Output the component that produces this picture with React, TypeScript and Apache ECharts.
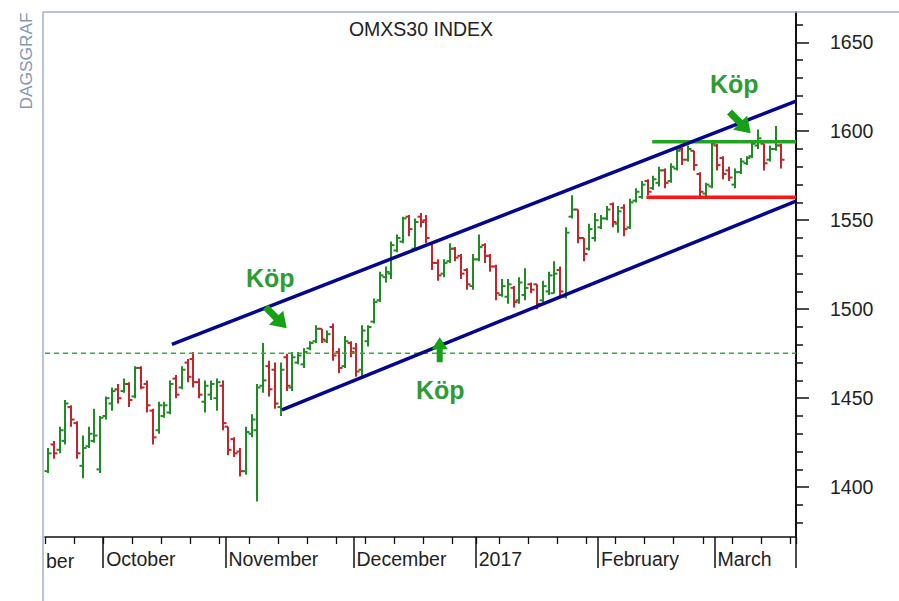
import React, { useEffect, useRef } from "react";
import * as echarts from "echarts";

// ---------- text ----------
const TITLE = "OMXS30 INDEX";
const SIDE_LABEL = "DAGSGRAF";
const FIRST_MONTH_TAIL = "ber";
const BUY = "Köp";
const MONTH_LABELS: Record<number, string> = {
  10: "October",
  11: "November",
  12: "December",
  1: "2017",
  2: "February",
  3: "March",
};

// ---------- categories (trading days) ----------
const MONTH_SPANS: [number, number, number, number][] = [
  [2016, 9, 19, 30],
  [2016, 10, 3, 31],
  [2016, 11, 1, 30],
  [2016, 12, 1, 30],
  [2017, 1, 2, 31],
  [2017, 2, 1, 28],
  [2017, 3, 1, 20],
];
const HOLIDAYS = ["2016-12-26", "2017-01-06"];

// ---------- OHLC values (one per trading day) ----------
const opens = [
  1409, 1424, 1421, 1426, 1445, 1436, 1412, 1423, 1426, 1410,
  1440, 1447, 1455, 1454, 1458, 1451, 1467, 1458, 1443, 1432,
  1440, 1442, 1461, 1456, 1470, 1472, 1459, 1448, 1452, 1450,
  1457, 1434, 1427, 1420, 1409, 1430, 1432, 1457, 1468, 1466,
  1445, 1473, 1456, 1470, 1469, 1478, 1482, 1489, 1482, 1490,
  1476, 1468, 1481, 1478, 1466, 1482, 1493, 1505, 1518, 1520,
  1533, 1538, 1552, 1534, 1552, 1550, 1537, 1526, 1520, 1527,
  1534, 1530, 1522, 1513, 1528, 1536, 1530, 1524, 1508, 1507,
  1512, 1505, 1508, 1514, 1514, 1505, 1510, 1509, 1522, 1507,
  1552, 1556, 1540, 1534, 1540, 1546, 1551, 1559, 1548, 1557,
  1546, 1561, 1563, 1572, 1568, 1571, 1578, 1572, 1579, 1590,
  1584, 1589, 1576, 1565, 1569, 1592, 1585, 1578, 1570, 1577,
  1582, 1586, 1592, 1593, 1584, 1590, 1592,
];
const highs = [
  1422, 1426, 1434, 1449, 1446, 1437, 1429, 1434, 1444, 1440,
  1451, 1456, 1458, 1461, 1459, 1468, 1468, 1460, 1444, 1448,
  1448, 1460, 1463, 1468, 1472, 1476, 1461, 1460, 1460, 1461,
  1460, 1434, 1428, 1422, 1434, 1441, 1458, 1481, 1471, 1470,
  1470, 1475, 1476, 1476, 1478, 1482, 1491, 1489, 1488, 1492,
  1478, 1485, 1482, 1481, 1491, 1491, 1506, 1521, 1524, 1538,
  1542, 1552, 1553, 1551, 1554, 1553, 1537, 1528, 1528, 1537,
  1535, 1531, 1523, 1531, 1542, 1537, 1531, 1525, 1517, 1517,
  1513, 1518, 1523, 1515, 1514, 1516, 1521, 1527, 1524, 1546,
  1564, 1556, 1540, 1548, 1554, 1553, 1558, 1560, 1558, 1559,
  1562, 1568, 1572, 1573, 1575, 1580, 1579, 1582, 1591, 1591,
  1592, 1589, 1577, 1571, 1594, 1593, 1586, 1580, 1579, 1585,
  1586, 1594, 1601, 1593, 1592, 1603, 1593,
];
const lows = [
  1408, 1416, 1419, 1424, 1434, 1416, 1405, 1422, 1425, 1408,
  1438, 1443, 1447, 1453, 1445, 1450, 1455, 1442, 1424, 1430,
  1439, 1441, 1450, 1455, 1459, 1456, 1450, 1442, 1449, 1443,
  1432, 1418, 1417, 1406, 1407, 1428, 1392, 1453, 1451, 1444,
  1440, 1454, 1454, 1469, 1467, 1477, 1481, 1481, 1481, 1471,
  1464, 1467, 1473, 1462, 1462, 1479, 1492, 1504, 1515, 1517,
  1532, 1537, 1541, 1533, 1546, 1537, 1522, 1516, 1518, 1526,
  1527, 1517, 1511, 1511, 1527, 1526, 1521, 1505, 1507, 1503,
  1501, 1503, 1505, 1509, 1500, 1504, 1508, 1509, 1506, 1506,
  1551, 1537, 1527, 1533, 1538, 1545, 1550, 1546, 1543, 1541,
  1545, 1560, 1562, 1564, 1567, 1569, 1568, 1571, 1578, 1581,
  1583, 1578, 1563, 1563, 1568, 1578, 1573, 1572, 1568, 1576,
  1581, 1585, 1590, 1578, 1583, 1589, 1579,
];
const closes = [
  1419, 1419, 1432, 1447, 1438, 1419, 1422, 1430, 1429, 1439,
  1450, 1454, 1450, 1458, 1449, 1467, 1456, 1446, 1428, 1446,
  1446, 1458, 1452, 1466, 1462, 1459, 1452, 1457, 1458, 1459,
  1436, 1421, 1419, 1409, 1431, 1438, 1456, 1460, 1455, 1447,
  1466, 1457, 1473, 1474, 1476, 1481, 1489, 1483, 1486, 1474,
  1467, 1482, 1476, 1465, 1488, 1490, 1504, 1519, 1521, 1536,
  1540, 1551, 1545, 1549, 1549, 1540, 1526, 1519, 1526, 1534,
  1529, 1520, 1514, 1528, 1535, 1530, 1524, 1509, 1513, 1514,
  1504, 1515, 1512, 1511, 1503, 1513, 1519, 1520, 1510, 1543,
  1556, 1540, 1531, 1545, 1550, 1551, 1556, 1549, 1555, 1545,
  1560, 1566, 1570, 1566, 1573, 1578, 1571, 1580, 1589, 1584,
  1590, 1581, 1566, 1570, 1593, 1581, 1576, 1574, 1577, 1583,
  1585, 1593, 1596, 1582, 1590, 1592, 1584,
];

// ---------- drawn annotation lines, [day position, index value] ----------
const upperChannel = [[21.3, 1480.3], [128.5, 1616.9]];
const lowerChannel = [[40.2, 1443.5], [128.5, 1560.7]];
const dashedLevel = [[-0.5, 1475.3], [128.5, 1475.3]];
const resistance = [[103.8, 1594.1], [128.5, 1594.1]];
const support = [[102.8, 1562.9], [128.5, 1562.9]];
const arrowsDownRight = [[39.2, 1495.2], [118.9, 1604.8]];
const arrowsUp = [[67.3, 1477.2]];
const buyLabels = [[38.2, 1517.4], [67.4, 1454.5], [117.9, 1626.4]];

// ---------- axis ticks ----------
const yMajor = [1400, 1450, 1500, 1550, 1600, 1650];
const yMinor = [
  1380, 1390, 1410, 1420, 1430, 1440, 1460, 1470, 1480, 1490, 1510, 1520,
  1530, 1540, 1560, 1570, 1580, 1590, 1610, 1620, 1630, 1640, 1660,
];

const FONT = "'Liberation Sans', Arial, sans-serif";
const GREEN = "#1f8b24";
const RED = "#c0262b";
const NAVY = "#05058f";
const BUY_GREEN = "#2e9b35";
const ARROW_GREEN = "#16a016";
const AXIS = "#111";

function buildDays() {
  const days: { y: number; m: number; d: number; dow: number; key: string }[] = [];
  MONTH_SPANS.forEach(([y, m, from, to]) => {
    for (let d = from; d <= to; d++) {
      const dt = new Date(Date.UTC(y, m - 1, d));
      const dow = dt.getUTCDay();
      const key = `${y}-${String(m).padStart(2, "0")}-${String(d).padStart(2, "0")}`;
      if (dow === 0 || dow === 6) continue;
      if (HOLIDAYS.includes(key)) continue;
      days.push({ y, m, d, dow, key });
    }
  });
  return days;
}

export default function App() {
  const ref = useRef<HTMLDivElement>(null);
  useEffect(() => {
    if (!ref.current) return;
    const chart = echarts.init(ref.current, null, { renderer: "svg" });
    const days = buildDays();
    const cats = days.map((d) => d.key);
    const weekStart = days.map((d, i) => i === 0 || d.dow < days[i - 1].dow);
    const monthStart = days.map((d, i) => i > 0 && d.m !== days[i - 1].m);
    const ohlc = opens.map((o, i) => [i, o, highs[i], lows[i], closes[i]]);
    const xMax = cats.length - 0.5;

    const ARROW_DOWN = "path://M-3.5,-15 L3.5,-15 L3.5,0 L10,0 L0,15 L-10,0 L-3.5,0 Z";
    const ARROW_UP = "path://M-3,13 L3,13 L3,0 L8,0 L0,-12 L-8,0 L-3,0 Z";

    const markData: any[] = [];
    arrowsDownRight.forEach((p) =>
      markData.push({
        coord: p,
        symbol: ARROW_DOWN,
        symbolSize: [20, 30],
        symbolRotate: 45,
        itemStyle: { color: ARROW_GREEN },
        label: { show: false },
      })
    );
    arrowsUp.forEach((p) =>
      markData.push({
        coord: p,
        symbol: ARROW_UP,
        symbolSize: [16, 25],
        itemStyle: { color: ARROW_GREEN },
        label: { show: false },
      })
    );
    buyLabels.forEach((p) =>
      markData.push({
        coord: p,
        symbol: "rect",
        symbolSize: 1,
        itemStyle: { color: "rgba(0,0,0,0)" },
        label: {
          show: true,
          position: "inside",
          formatter: BUY,
          fontSize: 25,
          fontWeight: "bold",
          color: BUY_GREEN,
          fontFamily: FONT,
        },
      })
    );

    const lineSeries = (data: number[][], color: string, width: number, type: any = "solid", z = 5) => ({
      type: "line",
      xAxisIndex: 2,
      yAxisIndex: 0,
      data,
      symbol: "none",
      silent: true,
      z,
      lineStyle: { color, width, type },
    });

    chart.setOption({
      animation: false,
      backgroundColor: "#ffffff",
      grid: { left: 45, right: 103, top: 12, bottom: 64, containLabel: false },
      xAxis: [
        {
          type: "category",
          data: cats,
          position: "bottom",
          offset: 0,
          boundaryGap: true,
          axisLine: { show: true, onZero: false, lineStyle: { color: AXIS, width: 1.5 } },
          axisTick: {
            show: true,
            interval: (i: number) => weekStart[i],
            length: 7,
            lineStyle: { color: AXIS, width: 1.3 },
          },
          axisLabel: {
            show: true,
            interval: (i: number) => monthStart[i],
            formatter: (_v: string, i: number) => (days[i] ? MONTH_LABELS[days[i].m] || "" : ""),
            align: "left",
            margin: 12,
            fontSize: 19.5,
            color: "#222",
            fontFamily: FONT,
            hideOverlap: false,
          },
          splitLine: { show: false },
        },
        {
          type: "category",
          data: cats,
          position: "bottom",
          offset: 0,
          boundaryGap: true,
          axisLine: { show: false, onZero: false },
          axisTick: {
            show: true,
            interval: (i: number) => monthStart[i],
            length: 31,
            lineStyle: { color: AXIS, width: 1.5 },
          },
          axisLabel: { show: false },
          splitLine: { show: false },
        },
        {
          type: "value",
          min: -0.5,
          max: xMax,
          show: false,
          axisLine: { onZero: false },
          splitLine: { show: false },
        },
      ],
      yAxis: [
        {
          type: "value",
          position: "right",
          offset: 0,
          min: 1372,
          max: 1667,
          axisLine: { show: true, onZero: false, lineStyle: { color: AXIS, width: 2 } },
          axisTick: {
            show: true,
            customValues: yMajor,
            length: 13,
            lineStyle: { color: AXIS, width: 1.5 },
          },
          axisLabel: {
            show: true,
            customValues: yMajor,
            formatter: (v: number) => String(v),
            margin: 34,
            fontSize: 19.5,
            color: "#222",
            fontFamily: FONT,
          },
          splitLine: { show: false },
        },
        {
          type: "value",
          position: "right",
          offset: 0,
          min: 1372,
          max: 1667,
          axisLine: { show: false, onZero: false },
          axisTick: {
            show: true,
            customValues: yMinor,
            length: 7,
            lineStyle: { color: AXIS, width: 1.5 },
          },
          axisLabel: { show: false },
          splitLine: { show: false },
        },
      ],
      series: [
        {
          type: "custom",
          xAxisIndex: 0,
          yAxisIndex: 0,
          data: ohlc,
          encode: { x: 0, y: [1, 2, 3, 4] },
          z: 3,
          silent: true,
          renderItem: (_params: any, api: any) => {
            const idx = api.value(0);
            const o = api.value(1);
            const h = api.value(2);
            const l = api.value(3);
            const c = api.value(4);
            const pH = api.coord([idx, h]);
            const pL = api.coord([idx, l]);
            const pO = api.coord([idx, o]);
            const pC = api.coord([idx, c]);
            const x = Math.round(pH[0]);
            const style = { stroke: c >= o ? GREEN : RED, lineWidth: 2 };
            return {
              type: "group",
              children: [
                { type: "line", shape: { x1: x, y1: pH[1], x2: x, y2: pL[1] }, style },
                { type: "line", shape: { x1: x - 3.5, y1: pO[1], x2: x, y2: pO[1] }, style },
                { type: "line", shape: { x1: x, y1: pC[1], x2: x + 3.5, y2: pC[1] }, style },
              ],
            };
          },
        },
        lineSeries(dashedLevel, "#3aac3a", 1.5, [5, 4], 4),
        lineSeries(support, "#ff1515", 3.5),
        lineSeries(resistance, "#21a421", 3.5),
        lineSeries(lowerChannel, NAVY, 3.5, "solid", 6),
        {
          ...lineSeries(upperChannel, NAVY, 3.5, "solid", 6),
          markPoint: { silent: true, z: 10, data: markData },
        },
      ],
      graphic: [
        {
          type: "text",
          z: 50,
          x: 421,
          y: 29,
          style: {
            text: TITLE,
            fontSize: 19.5,
            fontFamily: FONT,
            fill: "#222",
            textAlign: "center",
            textVerticalAlign: "middle",
          },
        },
        {
          type: "text",
          z: 50,
          x: 26,
          y: 61,
          rotation: Math.PI / 2,
          style: {
            text: SIDE_LABEL,
            fontSize: 17.3,
            fontFamily: FONT,
            fill: "#8797b0",
            textAlign: "center",
            textVerticalAlign: "middle",
          },
        },
        {
          type: "text",
          z: 50,
          x: 46,
          y: 561,
          style: {
            text: FIRST_MONTH_TAIL,
            fontSize: 19.5,
            fontFamily: FONT,
            fill: "#222",
            textAlign: "left",
            textVerticalAlign: "middle",
          },
        },
        {
          type: "line",
          z: 52,
          shape: { x1: 43, y1: 12, x2: 899, y2: 12 },
          style: { stroke: "#a3b1c2", lineWidth: 1.5 },
        },
        {
          type: "line",
          z: 52,
          shape: { x1: 43, y1: 12, x2: 43, y2: 601 },
          style: { stroke: "#a3b1c2", lineWidth: 1.5 },
        },
      ],
    });
    return () => chart.dispose();
  }, []);
  return (
    <div
      ref={ref}
      style={{ position: "fixed", left: 0, top: 0, width: 899, height: 601, background: "#fff" }}
    />
  );
}
